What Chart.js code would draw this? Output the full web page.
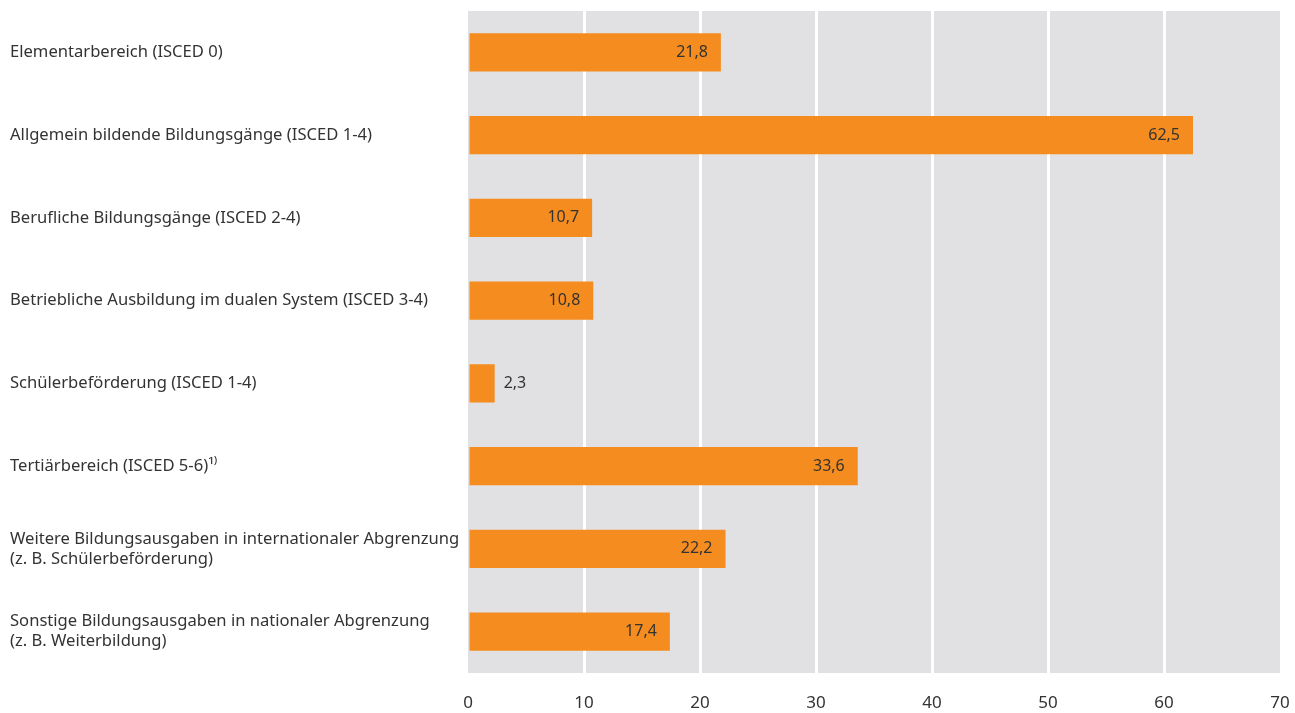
<!DOCTYPE html>
<html>
<head>
<meta charset="utf-8">
<script src="https://cdn.jsdelivr.net/npm/chart.js@4"></script>
<style>
  html, body { margin: 0; padding: 0; background: #fff; }
  #wrap { width: 1295px; height: 713px; }
</style>
</head>
<body>
<div id="wrap"><canvas id="bildungChart"></canvas></div>
<script>
const categories = [
  "Elementarbereich (ISCED 0)",
  "Allgemein bildende Bildungsgänge (ISCED 1-4)",
  "Berufliche Bildungsgänge (ISCED 2-4)",
  "Betriebliche Ausbildung im dualen System (ISCED 3-4)",
  "Schülerbeförderung (ISCED 1-4)",
  "Tertiärbereich (ISCED 5-6)¹⁾",
  ["Weitere Bildungsausgaben in internationaler Abgrenzung", "(z. B. Schülerbeförderung)"],
  ["Sonstige Bildungsausgaben in nationaler Abgrenzung", "(z. B. Weiterbildung)"]
];
const values = [21.8, 62.5, 10.7, 10.8, 2.3, 33.6, 22.2, 17.4];
const xTicks = [0, 10, 20, 30, 40, 50, 60, 70];

const fontFamily = "'Noto Sans', sans-serif";

// grey plot background
const plotBackground = {
  id: "plotBackground",
  beforeDraw(chart) {
    const { ctx, chartArea } = chart;
    ctx.save();
    ctx.fillStyle = "#e1e1e3";
    ctx.fillRect(chartArea.left, chartArea.top, chartArea.right - chartArea.left, chartArea.bottom - chartArea.top);
    ctx.restore();
  }
};

// value labels at bar ends
const valueLabels = {
  id: "valueLabels",
  afterDatasetsDraw(chart) {
    const { ctx } = chart;
    const meta = chart.getDatasetMeta(0);
    ctx.save();
    ctx.font = "16px " + fontFamily;
    ctx.fillStyle = "#333333";
    ctx.textBaseline = "middle";
    meta.data.forEach((bar, i) => {
      const v = values[i];
      const txt = v.toLocaleString("de-DE", { minimumFractionDigits: 1 });
      if (bar.width < 50) {
        ctx.textAlign = "left";
        ctx.fillText(txt, bar.x + 9, bar.y);
      } else {
        ctx.textAlign = "right";
        ctx.fillText(txt, bar.x - 13, bar.y);
      }
    });
    ctx.restore();
  }
};

new Chart(document.getElementById("bildungChart").getContext("2d"), {
  type: "bar",
  data: {
    labels: categories,
    datasets: [
      {
        data: values,
        backgroundColor: "#f58c1f",
        borderWidth: 0,
        barPercentage: 0.46,
        categoryPercentage: 1
      }
    ]
  },
  options: {
    indexAxis: "y",
    responsive: true,
    maintainAspectRatio: false,
    animation: false,
    layout: { padding: { left: 10, right: 15, top: 11, bottom: 0 } },
    plugins: {
      legend: { display: false },
      tooltip: { enabled: false }
    },
    scales: {
      x: {
        min: 0,
        max: 70,
        afterBuildTicks(scale) {
          scale.ticks = xTicks.map(v => ({ value: v }));
        },
        afterFit(scale) {
          scale.height = 40;
          scale.paddingLeft = 0;
          scale.paddingRight = 0;
        },
        border: { display: false },
        grid: {
          drawTicks: false,
          lineWidth: 3,
          color: ctx => (ctx.tick && (ctx.tick.value === 0 || ctx.tick.value === 70)) ? "rgba(0,0,0,0)" : "#ffffff"
        },
        ticks: {
          padding: 20,
          color: "#333333",
          font: { family: fontFamily, size: 17 }
        }
      },
      y: {
        afterFit(scale) {
          scale.width = 458;
          scale.paddingTop = 0;
          scale.paddingBottom = 0;
        },
        border: { display: false },
        grid: { display: false, drawTicks: false },
        ticks: {
          crossAlign: "far",
          color: "#333333",
          font: { family: fontFamily, size: 16.6, lineHeight: 1.2 }
        }
      }
    }
  },
  plugins: [plotBackground, valueLabels]
});
</script>
</body>
</html>
